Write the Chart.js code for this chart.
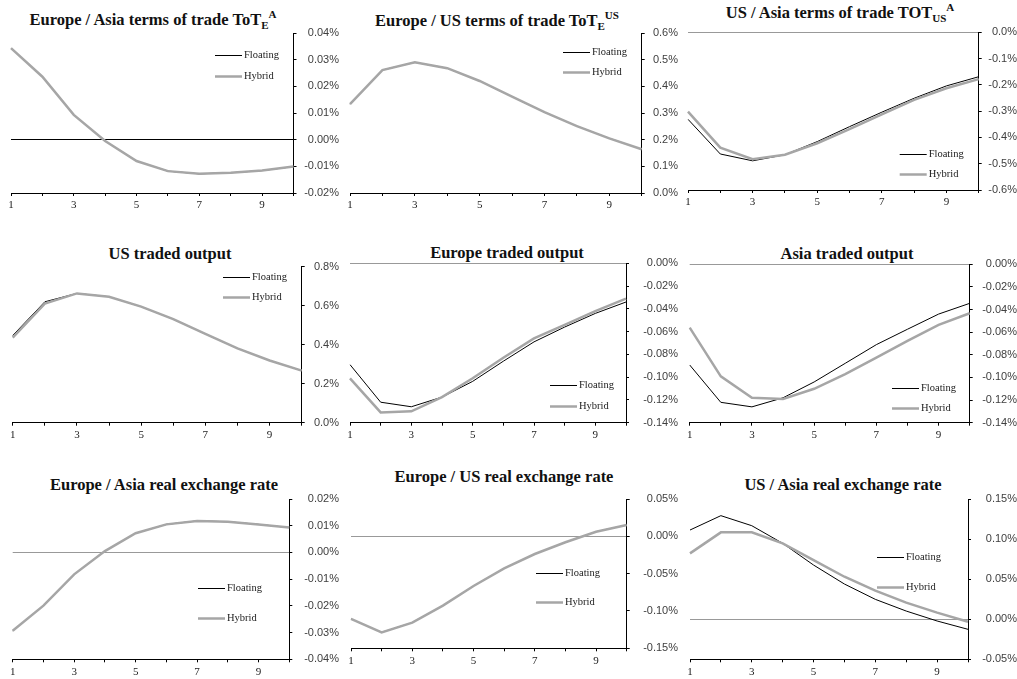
<!DOCTYPE html>
<html>
<head>
<meta charset="utf-8">
<script src="https://cdn.jsdelivr.net/npm/chart.js@4/dist/chart.umd.min.js"></script>
<style>
  html, body { margin: 0; padding: 0; background: #fff; }
  body { position: relative; width: 1017px; height: 679px; overflow: hidden; }
  canvas.cell { position: absolute; }
  .title {
    position: absolute; white-space: nowrap; color: #111;
    font: bold 16.5px "Liberation Serif", "Times New Roman", serif; line-height: 16px;
    transform: translateX(-50%);
  }
  .title sub, .title sup { font-size: 11px; line-height: 0; position: relative; vertical-align: baseline; }
  .title sub { top: 4px; }
  .title sup { top: -7px; }
</style>
</head>
<body>
<script>
// Impulse responses, in percent deviation, over periods 1..10
const periods = [1, 2, 3, 4, 5, 6, 7, 8, 9, 10];

const totEA_floating = [0.0343, 0.0236, 0.0093, -0.0005, -0.0080, -0.0118, -0.0128, -0.0124, -0.0116, -0.0101];
const totEA_hybrid   = [0.0343, 0.0236, 0.0093, -0.0005, -0.0080, -0.0118, -0.0128, -0.0124, -0.0116, -0.0101];

const totEUS_floating = [0.333, 0.461, 0.490, 0.468, 0.420, 0.361, 0.303, 0.251, 0.205, 0.164];
const totEUS_hybrid   = [0.333, 0.461, 0.490, 0.468, 0.420, 0.361, 0.303, 0.251, 0.205, 0.164];

const totUSA_floating = [-0.331, -0.463, -0.489, -0.466, -0.416, -0.359, -0.304, -0.251, -0.204, -0.169];
const totUSA_hybrid   = [-0.302, -0.439, -0.483, -0.466, -0.422, -0.368, -0.312, -0.257, -0.213, -0.178];

const usOut_floating = [0.447, 0.620, 0.663, 0.646, 0.595, 0.531, 0.455, 0.381, 0.319, 0.267];
const usOut_hybrid   = [0.436, 0.611, 0.663, 0.646, 0.595, 0.531, 0.455, 0.381, 0.319, 0.267];

const euOut_floating = [-0.089, -0.122, -0.126, -0.1175, -0.1037, -0.086, -0.069, -0.056, -0.044, -0.034];
const euOut_hybrid   = [-0.101, -0.131, -0.130, -0.1175, -0.101, -0.083, -0.066, -0.054, -0.042, -0.031];

const asiaOut_floating = [-0.089, -0.122, -0.126, -0.118, -0.104, -0.0875, -0.071, -0.0574, -0.044, -0.0345];
const asiaOut_hybrid   = [-0.056, -0.099, -0.118, -0.119, -0.110, -0.097, -0.0825, -0.0677, -0.0536, -0.0433];

const rerEA_floating = [-0.0293, -0.0199, -0.0082, 0.0005, 0.0072, 0.0105, 0.0118, 0.0115, 0.0105, 0.0093];
const rerEA_hybrid   = [-0.0293, -0.0199, -0.0082, 0.0005, 0.0072, 0.0105, 0.0118, 0.0115, 0.0105, 0.0093];

const rerEUS_floating = [-0.1107, -0.1286, -0.1156, -0.0929, -0.0665, -0.0429, -0.0237, -0.008, 0.0062, 0.0152];
const rerEUS_hybrid   = [-0.1107, -0.1286, -0.1156, -0.0929, -0.0665, -0.0429, -0.0237, -0.008, 0.0062, 0.0152];

const rerUSA_floating = [0.1113, 0.1292, 0.1167, 0.0947, 0.0676, 0.0439, 0.0248, 0.0102, -0.0022, -0.0126];
const rerUSA_hybrid   = [0.0822, 0.1084, 0.1084, 0.0947, 0.0738, 0.0530, 0.0356, 0.0207, 0.0082, -0.0031];

// y-axis ranges: [min, max, step, decimals]
const totEA_axis   = [-0.02, 0.04, 0.01, 2];
const totEUS_axis  = [0, 0.6, 0.1, 1];
const totUSA_axis  = [-0.6, 0, 0.1, 1];
const usOut_axis   = [0, 0.8, 0.2, 1];
const euOut_axis   = [-0.14, 0, 0.02, 2];
const asiaOut_axis = [-0.14, 0, 0.02, 2];
const rerEA_axis   = [-0.04, 0.02, 0.01, 2];
const rerEUS_axis  = [-0.15, 0.05, 0.05, 2];
const rerUSA_axis  = [-0.05, 0.15, 0.05, 2];

// Grid of small multiples: cell origin, plot box [left,right,top,bottom], key [x,y,step], heading [cx,baseline]
const CELL_W = 339, CELL_H = 226;
const panels = [
  { title: 'Europe / Asia terms of trade ToT<sub>E</sub><sup>A</sup>', f: totEA_floating, h: totEA_hybrid, axis: totEA_axis,
    zero: '#000', cell: [0, 0], box: [11, 293.5, 33, 193], key: [215, 55, 20.5], head: [153, 25.5] },
  { title: 'Europe / US terms of trade ToT<sub>E</sub><sup>US</sup>', f: totEUS_floating, h: totEUS_hybrid, axis: totEUS_axis,
    zero: '#999', cell: [339, 0], box: [350, 641.7, 33, 193], key: [563, 52, 20.3], head: [497, 26] },
  { title: 'US / Asia terms of trade TOT<sub>US</sub><sup>A</sup>', f: totUSA_floating, h: totUSA_hybrid, axis: totUSA_axis,
    zero: '#999', cell: [678, 0], box: [688, 978.7, 32.3, 190], key: [899.7, 154, 19.5], head: [840, 18.5] },
  { title: 'US traded output', f: usOut_floating, h: usOut_hybrid, axis: usOut_axis,
    zero: '#999', cell: [0, 226], box: [12.7, 301.7, 266.7, 422.7], key: [223, 277.3, 20], head: [170, 259.3] },
  { title: 'Europe traded output', f: euOut_floating, h: euOut_hybrid, axis: euOut_axis,
    zero: '#999', cell: [339, 226], box: [350, 626, 263.3, 422.7], key: [550, 385, 20.5], head: [507, 258.3] },
  { title: 'Asia traded output', f: asiaOut_floating, h: asiaOut_hybrid, axis: asiaOut_axis,
    zero: '#999', cell: [678, 226], box: [689.7, 969.7, 264.3, 422.7], key: [892, 388.3, 20], head: [847, 259] },
  { title: 'Europe / Asia real exchange rate', f: rerEA_floating, h: rerEA_hybrid, axis: rerEA_axis,
    zero: '#999', cell: [0, 453], box: [12.7, 289.3, 499, 659.3], key: [198, 588.3, 30], head: [164, 490] },
  { title: 'Europe / US real exchange rate', f: rerEUS_floating, h: rerEUS_hybrid, axis: rerEUS_axis,
    zero: '#999', cell: [339, 453], box: [351, 626.7, 499, 648.3], key: [536, 572.7, 29], head: [504, 482.7] },
  { title: 'US / Asia real exchange rate', f: rerUSA_floating, h: rerUSA_hybrid, axis: rerUSA_axis,
    zero: '#999', cell: [678, 453], box: [690, 968, 499, 659.3], key: [877, 557.3, 30], head: [843, 490.7] }
];

// Series key drawn inside the plot: short line sample followed by the series name
const seriesKey = {
  id: 'seriesKey',
  afterDatasetsDraw(chart, args, opts) {
    const ctx = chart.ctx;
    ctx.save();
    ctx.font = '10.5px "Liberation Serif", "Times New Roman", serif';
    ctx.textBaseline = 'middle';
    ctx.textAlign = 'left';
    chart.data.datasets.forEach((ds, i) => {
      const y = Math.round(opts.y + i * opts.step) + 0.5;
      ctx.beginPath();
      ctx.strokeStyle = ds.borderColor;
      ctx.lineWidth = ds.borderWidth;
      ctx.moveTo(opts.x, y);
      ctx.lineTo(opts.x + 27, y);
      ctx.stroke();
      ctx.fillStyle = '#1a1a1a';
      ctx.fillText(ds.label, opts.x + 29, y);
    });
    ctx.restore();
  }
};

const fmt = (v, dec) => (Math.abs(v) < 1e-9 ? 0 : v).toFixed(dec) + '%';

panels.forEach(p => {
  const [cx, cy] = p.cell;
  const [l, r, t, b] = p.box;
  const [yMin, yMax, yStep, dec] = p.axis;

  const head = document.createElement('div');
  head.className = 'title';
  head.innerHTML = p.title;
  head.style.left = p.head[0] + 'px';
  head.style.top = (p.head[1] - 13.5) + 'px';
  document.body.appendChild(head);

  const cv = document.createElement('canvas');
  cv.className = 'cell';
  cv.width = CELL_W; cv.height = CELL_H;
  cv.style.left = cx + 'px'; cv.style.top = cy + 'px';
  document.body.appendChild(cv);

  new Chart(cv, {
    type: 'line',
    data: {
      labels: periods,
      datasets: [
        { label: 'Floating', data: p.f, borderColor: '#000', borderWidth: 1, pointRadius: 0, tension: 0, order: 2 },
        { label: 'Hybrid', data: p.h, borderColor: '#a6a6a6', borderWidth: 2.5, pointRadius: 0, tension: 0, order: 1 }
      ]
    },
    options: {
      responsive: false,
      animation: false,
      devicePixelRatio: 1,
      events: [],
      layout: { padding: { left: l - cx, top: t - cy, right: 0, bottom: 0 } },
      plugins: {
        legend: { display: false },
        title: { display: false },
        tooltip: { enabled: false },
        seriesKey: { x: p.key[0] - cx, y: p.key[1] - cy, step: p.key[2] }
      },
      scales: {
        x: {
          type: 'category',
          offset: false,
          afterFit: s => { s.height = cy + CELL_H - b; },
          grid: { drawOnChartArea: false, drawTicks: true, tickLength: 3, tickColor: '#000', color: '#000' },
          border: { display: true, color: '#000', width: 1 },
          ticks: {
            autoSkip: false, maxRotation: 0, padding: 3, color: '#222',
            font: { family: '"Liberation Serif", "Times New Roman", serif', size: 11 },
            callback: (v, i) => (i % 2 === 0 ? String(periods[i]) : '')
          }
        },
        y: {
          position: 'right',
          min: yMin, max: yMax,
          afterFit: s => { s.width = cx + CELL_W - r; },
          grid: {
            drawTicks: true, tickLength: 3, tickColor: '#000', lineWidth: 1,
            color: c => (c.tick && Math.abs(c.tick.value) < 1e-9 && Math.abs(c.tick.value - yMin) > 1e-9) ? p.zero : 'rgba(0,0,0,0)'
          },
          border: { display: true, color: '#000', width: 1 },
          ticks: {
            stepSize: yStep, padding: 2, crossAlign: 'far', color: '#404040',
            font: { family: '"Liberation Sans", Arial, sans-serif', size: 11 },
            callback: v => fmt(v, dec)
          }
        }
      }
    },
    plugins: [seriesKey]
  });
});
</script>
</body>
</html>
